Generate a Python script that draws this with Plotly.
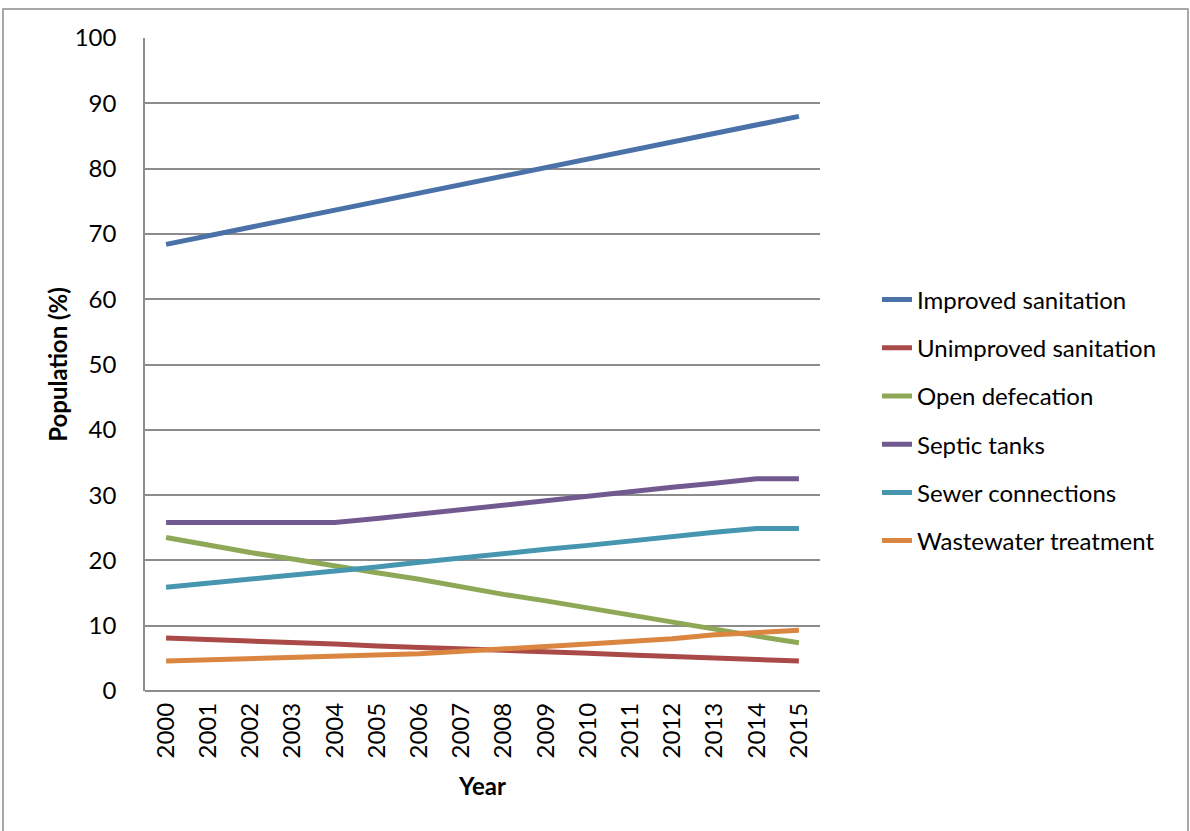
import plotly.graph_objects as go

years = [str(y) for y in range(2000, 2016)]
improved = [68.4, 69.7, 71.0, 72.3, 73.6, 74.9, 76.2, 77.5, 78.9, 80.2, 81.5, 82.8, 84.1, 85.4, 86.7, 88.0]
unimproved = [8.1, 7.9, 7.7, 7.4, 7.2, 6.9, 6.7, 6.5, 6.3, 6.1, 5.8, 5.5, 5.3, 5.0, 4.8, 4.6]
open_def = [23.5, 22.3, 21.2, 20.2, 19.1, 18.1, 17.1, 15.9, 14.8, 13.8, 12.7, 11.6, 10.5, 9.5, 8.4, 7.4]
septic = [25.8, 25.8, 25.8, 25.8, 25.8, 26.4, 27.1, 27.8, 28.5, 29.1, 29.8, 30.5, 31.2, 31.8, 32.5, 32.5]
sewer = [15.9, 16.5, 17.1, 17.7, 18.4, 19.0, 19.7, 20.4, 21.0, 21.7, 22.3, 23.0, 23.6, 24.3, 24.9, 24.9]
wastewater = [4.6, 4.8, 5.0, 5.1, 5.3, 5.5, 5.7, 6.1, 6.4, 6.8, 7.2, 7.6, 8.0, 8.6, 9.0, 9.3]

series = [
    ("Improved sanitation", improved, "#4A72A8"),
    ("Unimproved sanitation", unimproved, "#A94A49"),
    ("Open defecation", open_def, "#8EA857"),
    ("Septic tanks", septic, "#725A90"),
    ("Sewer connections", sewer, "#4796AF"),
    ("Wastewater treatment", wastewater, "#DA8540"),
]

FONT = "Lato"
FS = 24

fig = go.Figure()
for i, (name, vals, col) in enumerate(series):
    fig.add_trace(go.Scatter(
        x=years, y=vals, name=name, mode="lines",
        line=dict(color=col, width=5),
        legendgroup=f"g{i}",
    ))

fig.update_layout(
    width=1190, height=831,
    margin=dict(l=145, r=370, t=38, b=140),
    paper_bgcolor="white", plot_bgcolor="white",
    font=dict(family=FONT, size=FS, color="black"),
    showlegend=True,
    legend=dict(
        x=(877 - 145) / 675, y=(691 - 420.5) / 653, xanchor="left", yanchor="middle",
        font=dict(family=FONT, size=FS, color="black"),
        tracegroupgap=14, bgcolor="rgba(0,0,0,0)",
    ),
    xaxis=dict(
        type="category", range=[-0.5, 15.5],
        tickangle=-90, showgrid=False,
        showline=False, ticks="",
        ticklabelstandoff=6,
        tickfont=dict(family=FONT, size=FS),
        title=dict(text="<b>Year</b>", font=dict(family=FONT, size=FS), standoff=20),
    ),
    yaxis=dict(
        range=[0, 100], dtick=10, tick0=0,
        showgrid=True, gridcolor="#8C8C8C", gridwidth=1.5,
        showline=True, linecolor="#8C8C8C", linewidth=1.5,
        zeroline=True, zerolinecolor="#8C8C8C", zerolinewidth=1.5,
        ticks="", ticklabelstandoff=22,
        tickfont=dict(family=FONT, size=FS),
        title=dict(text="<b>Population (%)</b>", font=dict(family=FONT, size=FS), standoff=0),
    ),
    shapes=[dict(
        type="rect", xref="paper", yref="paper",
        x0=(3 - 145) / 675, x1=(1188 - 145) / 675,
        y0=(691 - 840) / 653, y1=(691 - 9) / 653,
        line=dict(color="#8C8C8C", width=1.5), fillcolor="rgba(0,0,0,0)",
        layer="below",
    )],
)

fig.write_html(
    "out.html",
    config={"displayModeBar": False},
    post_script="document.body.style.margin='0';document.body.style.overflow='hidden';",
)
